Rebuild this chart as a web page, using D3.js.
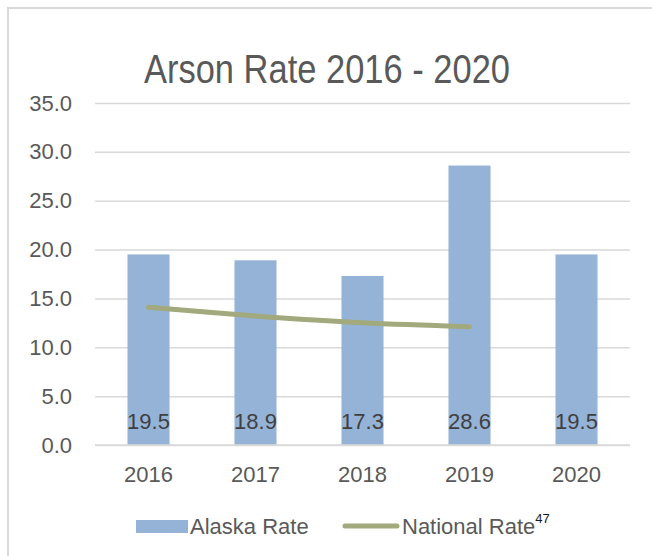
<!DOCTYPE html>
<html>
<head>
<meta charset="utf-8">
<script src="https://cdn.jsdelivr.net/npm/d3@7/dist/d3.min.js"></script>
<style>
  html, body { margin: 0; padding: 0; background: #fff; }
  svg { display: block; }
</style>
</head>
<body>
<svg id="chart" width="652" height="556"></svg>
<script>
// Arson rates per year
const years = ["2016", "2017", "2018", "2019", "2020"];
const alaskaRate = [19.5, 18.9, 17.3, 28.6, 19.5];
const nationalYears = ["2016", "2017", "2018", "2019"];
const nationalRate = [14.1, 13.2, 12.5, 12.1];
const yTicks = [0, 5, 10, 15, 20, 25, 30, 35];

const W = 652, H = 556;
const margin = { left: 95, right: 22, top: 103, bottom: 111 };
const svg = d3.select("#chart");
const font = "'Liberation Sans', Arial, sans-serif";

// outer frame
svg.append("rect")
  .attr("x", 8).attr("y", 8)
  .attr("width", W).attr("height", H)
  .attr("fill", "none")
  .attr("stroke", "#d9d9d9")
  .attr("stroke-width", 2);

const x = d3.scaleBand()
  .domain(years)
  .range([margin.left, W - margin.right])
  .paddingInner(0.607)
  .paddingOuter(0.3035);

const y = d3.scaleLinear()
  .domain([0, 35])
  .range([H - margin.bottom, margin.top]);

// title (condensed to the narrow face width)
svg.append("text")
  .attr("x", 327).attr("y", 83)
  .attr("text-anchor", "middle")
  .attr("font-family", font)
  .attr("font-size", 40)
  .attr("textLength", 366)
  .attr("lengthAdjust", "spacingAndGlyphs")
  .attr("fill", "#595959")
  .text("Arson Rate 2016 - 2020");

// value axis with gridlines
const yAxis = d3.axisLeft(y)
  .tickValues(yTicks)
  .tickSize(-(W - margin.right - margin.left))
  .tickPadding(23)
  .tickFormat(d3.format(".1f"));

const gy = svg.append("g")
  .attr("transform", `translate(${margin.left},0)`)
  .call(yAxis);
gy.select(".domain").remove();
gy.selectAll(".tick line")
  .attr("stroke", "#d9d9d9")
  .attr("stroke-width", 1.5);
gy.selectAll(".tick text")
  .attr("font-family", font)
  .attr("font-size", 22)
  .attr("fill", "#595959");

// bars
svg.append("g").selectAll("rect")
  .data(years)
  .join("rect")
  .attr("x", d => x(d))
  .attr("width", x.bandwidth())
  .attr("y", (d, i) => y(alaskaRate[i]))
  .attr("height", (d, i) => y(0) - y(alaskaRate[i]))
  .attr("fill", "#95b3d7");

// baseline
svg.append("line")
  .attr("x1", margin.left).attr("x2", W - margin.right)
  .attr("y1", y(0)).attr("y2", y(0))
  .attr("stroke", "#d9d9d9")
  .attr("stroke-width", 1.5);

// national rate line
const line = d3.line()
  .x((d, i) => x(nationalYears[i]) + x.bandwidth() / 2)
  .y(d => y(d))
  .curve(d3.curveCatmullRom.alpha(0.5));

svg.append("path")
  .datum(nationalRate)
  .attr("d", line)
  .attr("fill", "none")
  .attr("stroke", "#a2a97c")
  .attr("stroke-width", 5)
  .attr("stroke-linecap", "round");

// data labels
svg.append("g").selectAll("text")
  .data(years)
  .join("text")
  .attr("x", d => x(d) + x.bandwidth() / 2)
  .attr("y", 429)
  .attr("text-anchor", "middle")
  .attr("font-family", font)
  .attr("font-size", 22)
  .attr("fill", "#404040")
  .text((d, i) => alaskaRate[i].toFixed(1));

// category labels
svg.append("g").selectAll("text")
  .data(years)
  .join("text")
  .attr("x", d => x(d) + x.bandwidth() / 2)
  .attr("y", 482)
  .attr("text-anchor", "middle")
  .attr("font-family", font)
  .attr("font-size", 22)
  .attr("fill", "#595959")
  .text(d => d);

// legend
const lg = svg.append("g");
lg.append("rect")
  .attr("x", 136).attr("y", 520)
  .attr("width", 52).attr("height", 13)
  .attr("fill", "#95b3d7");
lg.append("text")
  .attr("x", 190).attr("y", 534)
  .attr("font-family", font)
  .attr("font-size", 22)
  .attr("fill", "#595959")
  .text("Alaska Rate");
lg.append("line")
  .attr("x1", 345).attr("x2", 397)
  .attr("y1", 526).attr("y2", 526)
  .attr("stroke", "#a2a97c")
  .attr("stroke-width", 5)
  .attr("stroke-linecap", "round");
const nt = lg.append("text")
  .attr("x", 402).attr("y", 534)
  .attr("font-family", font)
  .attr("font-size", 22)
  .attr("fill", "#595959");
nt.append("tspan").text("National Rate");
nt.append("tspan")
  .attr("dy", -11)
  .attr("font-size", 13)
  .attr("fill", "#1a1a1a")
  .text("47");
</script>
</body>
</html>
